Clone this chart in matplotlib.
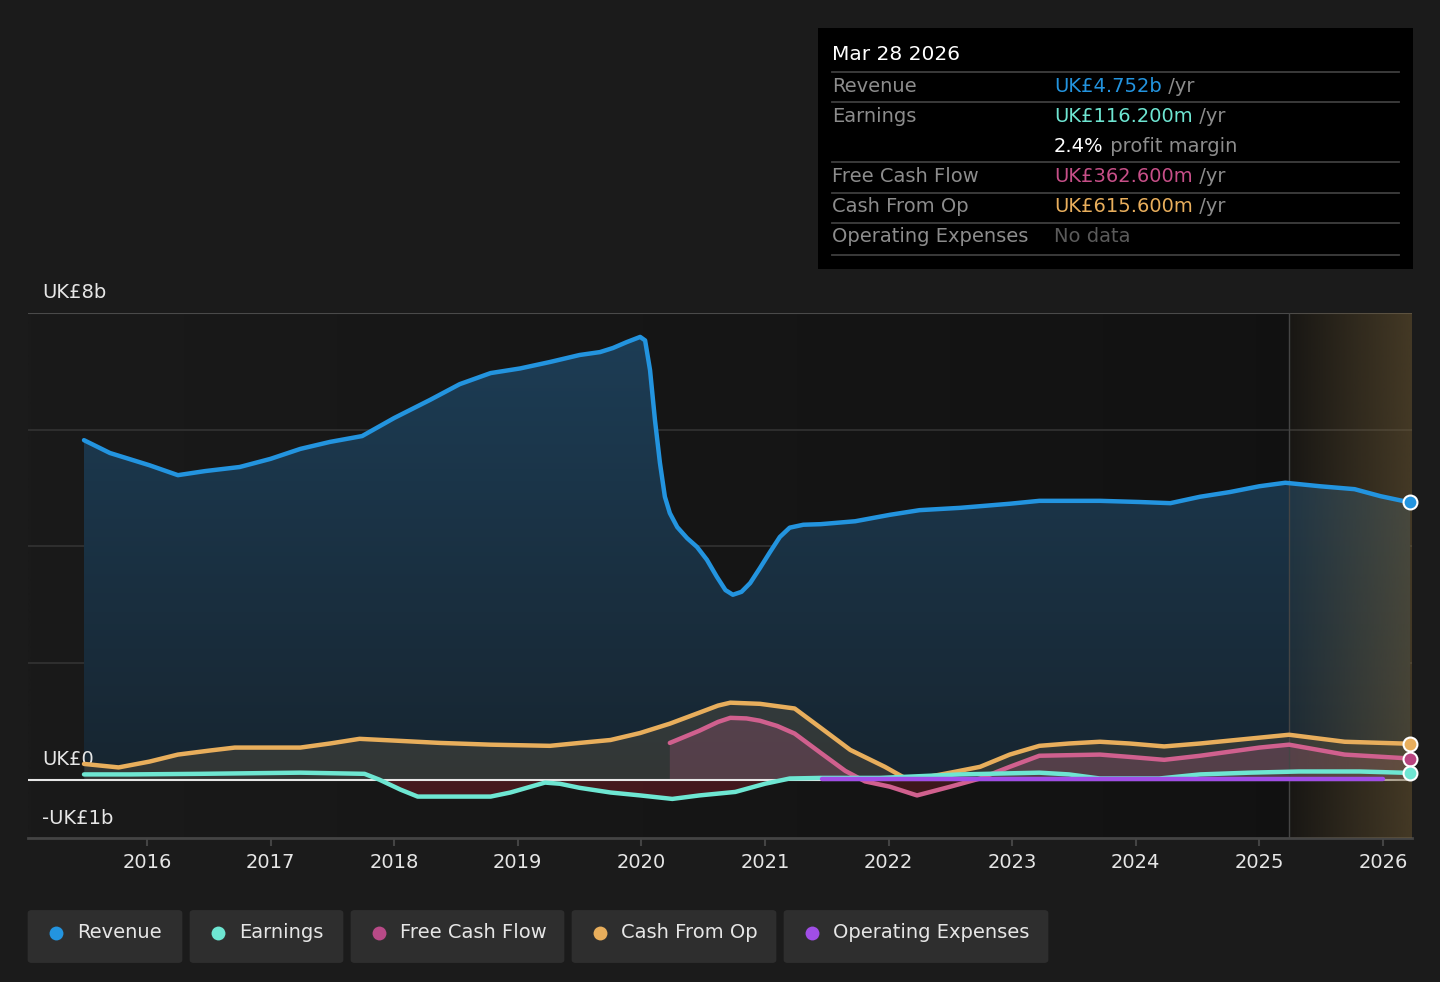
import numpy as np
import matplotlib
matplotlib.use('Agg')
from matplotlib import pyplot as plt
from matplotlib.patches import FancyBboxPatch
from matplotlib.colors import to_rgb

# Values in UK£ billions, x in decimal years
rev_x = [2015.49, 2015.70, 2016.02, 2016.25, 2016.47, 2016.75, 2017.0, 2017.24, 2017.48, 2017.74,
         2018.0, 2018.29, 2018.53, 2018.78, 2019.02, 2019.26, 2019.50, 2019.665, 2019.77, 2019.88,
         2019.99, 2020.03, 2020.07, 2020.11, 2020.15, 2020.19, 2020.23, 2020.29, 2020.37, 2020.45,
         2020.53, 2020.61, 2020.68, 2020.74, 2020.81, 2020.88, 2020.96, 2021.04, 2021.12, 2021.20,
         2021.31, 2021.45, 2021.73, 2022.01, 2022.25, 2022.58, 2022.98, 2023.22, 2023.71, 2024.03,
         2024.28, 2024.52, 2024.76, 2025.0, 2025.21, 2025.49, 2025.77, 2025.98, 2026.22]
rev_y = [5.82, 5.60, 5.39, 5.22, 5.29, 5.36, 5.50, 5.67, 5.79, 5.89,
         6.20, 6.51, 6.78, 6.97, 7.05, 7.16, 7.28, 7.33, 7.40, 7.50,
         7.59, 7.53, 7.02, 6.16, 5.43, 4.85, 4.57, 4.33, 4.14, 3.99,
         3.77, 3.48, 3.25, 3.17, 3.22, 3.37, 3.63, 3.90, 4.16, 4.32,
         4.37, 4.38, 4.43, 4.54, 4.62, 4.66, 4.73, 4.78, 4.78, 4.76,
         4.74, 4.85, 4.93, 5.03, 5.09, 5.03, 4.98, 4.86, 4.752]

earn_x = [2015.49, 2015.86, 2016.43, 2017.24, 2017.76, 2017.88, 2018.05, 2018.19, 2018.45, 2018.78,
          2018.94, 2019.22, 2019.34, 2019.50, 2019.75, 2019.99, 2020.25, 2020.47, 2020.76, 2021.0,
          2021.20, 2021.45, 2021.93, 2022.58, 2023.22, 2023.46, 2023.71, 2024.19, 2024.52, 2024.92,
          2025.32, 2025.81, 2026.22]
earn_y = [0.09, 0.09, 0.10, 0.12, 0.10, 0.0, -0.17, -0.29, -0.29, -0.29,
          -0.22, -0.05, -0.07, -0.14, -0.22, -0.27, -0.33, -0.27, -0.21, -0.07,
          0.02, 0.03, 0.03, 0.09, 0.12, 0.09, 0.02, 0.02, 0.09, 0.12,
          0.14, 0.14, 0.1162]

fcf_x = [2020.23, 2020.47, 2020.62, 2020.72, 2020.85, 2020.96, 2021.10, 2021.24, 2021.45, 2021.65,
         2021.81, 2022.01, 2022.23, 2022.50, 2022.74, 2022.98, 2023.22, 2023.71, 2023.95, 2024.23,
         2024.52, 2025.0, 2025.24, 2025.69, 2026.22]
fcf_y = [0.63, 0.84, 0.99, 1.06, 1.05, 1.01, 0.92, 0.79, 0.46, 0.15,
         -0.03, -0.12, -0.27, -0.12, 0.02, 0.22, 0.41, 0.43, 0.39, 0.34,
         0.41, 0.55, 0.60, 0.43, 0.3626]

cfo_x = [2015.49, 2015.77, 2016.02, 2016.25, 2016.51, 2016.71, 2017.24, 2017.48, 2017.72, 2018.0,
         2018.37, 2018.78, 2019.26, 2019.50, 2019.75, 2019.99, 2020.23, 2020.47, 2020.62, 2020.72,
         2020.96, 2021.24, 2021.45, 2021.69, 2021.97, 2022.13, 2022.25, 2022.50, 2022.74, 2022.98,
         2023.22, 2023.46, 2023.71, 2023.95, 2024.23, 2024.52, 2025.0, 2025.24, 2025.69, 2026.22]
cfo_y = [0.27, 0.21, 0.31, 0.43, 0.50, 0.55, 0.55, 0.62, 0.70, 0.67,
         0.63, 0.60, 0.58, 0.63, 0.68, 0.80, 0.96, 1.15, 1.27, 1.32,
         1.30, 1.22, 0.89, 0.51, 0.22, 0.03, 0.02, 0.12, 0.22, 0.43,
         0.58, 0.62, 0.65, 0.62, 0.57, 0.62, 0.72, 0.77, 0.65, 0.6156]

opex_x = [2021.46, 2022.0, 2023.0, 2024.0, 2025.0, 2026.0]
opex_y = [0.02, 0.02, 0.02, 0.02, 0.02, 0.02]

years = [2016, 2017, 2018, 2019, 2020, 2021, 2022, 2023, 2024, 2025, 2026]
forecast_start = 2025.24

series_names = ['Revenue', 'Earnings', 'Free Cash Flow', 'Cash From Op', 'Operating Expenses']
colors = {'Revenue': '#2394df', 'Earnings': '#6ee6d2', 'Free Cash Flow': '#d0608e',
          'Cash From Op': '#e8ae5c', 'Operating Expenses': '#a04ee6'}
legend_dots = {'Revenue': '#2394df', 'Earnings': '#6ee6d2', 'Free Cash Flow': '#b84a87',
               'Cash From Op': '#e8ae5c', 'Operating Expenses': '#a04ee6'}
marker_fill = {'Revenue': '#2394df', 'Earnings': '#6ee6d2', 'Free Cash Flow': '#b8437f',
               'Cash From Op': '#e8ae5c'}

BG = '#1b1b1b'
XMIN, XMAX = 2015.037, 2026.235
YMIN, YMAX = -1.0, 8.0

fig = plt.figure(figsize=(14.4, 9.82), dpi=100, facecolor=BG)
ax = fig.add_axes([28 / 1440, 1 - 838 / 982, (1412 - 28) / 1440, (838 - 313) / 982])
ax.set_facecolor('#151515')
ax.set_xlim(XMIN, XMAX)
ax.set_ylim(YMIN, YMAX)
for s in ax.spines.values():
    s.set_visible(False)

# plot background, slightly lighter on the left
l_c = np.array(to_rgb('#1a1a1a'))
r_c = np.array(to_rgb('#111111'))
t = np.linspace(0, 1, 256)[None, :, None]
bg_img = l_c[None, None, :] * (1 - t) + r_c[None, None, :] * t
ax.imshow(bg_img, extent=[XMIN, XMAX, YMIN, YMAX], aspect='auto', zorder=0, interpolation='bilinear')

# grid lines
for gy in [2, 4, 6]:
    ax.axhline(gy, color='#333333', lw=1.2, zorder=1)
ax.axhline(8, color='#4a4a4a', lw=1.5, zorder=1)
ax.axhline(-1, color='#444444', lw=2, zorder=1, clip_on=False)

# revenue area with vertical gradient
poly = ax.fill_between(rev_x, rev_y, 0, facecolor='none', edgecolor='none')
top_c = np.array(to_rgb('#1d3e57'))
bot_c = np.array(to_rgb('#172530'))
grad = np.linspace(1, 0, 256)[:, None]
img = top_c[None, None, :] * grad[:, :, None] + bot_c[None, None, :] * (1 - grad[:, :, None])
im = ax.imshow(img, extent=[rev_x[0], rev_x[-1], 0, 8], aspect='auto', zorder=2, interpolation='bilinear')
im.set_clip_path(poly.get_paths()[0], transform=ax.transData)

# other areas
ax.fill_between(cfo_x, cfo_y, 0, color='#e8ae5c', alpha=0.13, lw=0, zorder=3)
fcf_arr = np.array(fcf_y)
ax.fill_between(fcf_x, fcf_y, 0, where=fcf_arr >= 0, interpolate=True, color='#d0608e', alpha=0.22, lw=0, zorder=3)
ax.fill_between(fcf_x, fcf_y, 0, where=fcf_arr <= 0, interpolate=True, color='#8a1e2a', alpha=0.35, lw=0, zorder=3)
earn_arr = np.array(earn_y)
ax.fill_between(earn_x, earn_y, 0, where=earn_arr <= 0, interpolate=True, color='#8a1e2a', alpha=0.4, lw=0, zorder=3)

ax.axhline(0, color='#e6e6e6', lw=1.5, zorder=4)

# forecast shading (horizontal gradient), under the lines
fc = np.array(to_rgb('#6e5a36'))
shade = np.zeros((1, 256, 4))
shade[0, :, :3] = fc
shade[0, :, 3] = np.linspace(0.08, 0.55, 256)
ax.imshow(shade, extent=[forecast_start, XMAX, YMIN, YMAX], aspect='auto', zorder=5, interpolation='bilinear')
ax.axvline(forecast_start, color='#454545', lw=1.0, zorder=5)

# lines
lw = 3.2
line_kw = dict(lw=lw, solid_capstyle='round', solid_joinstyle='round')
ax.plot(rev_x, rev_y, color=colors['Revenue'], zorder=6, **line_kw)
ax.plot(cfo_x, cfo_y, color=colors['Cash From Op'], zorder=6, **line_kw)
ax.plot(fcf_x, fcf_y, color=colors['Free Cash Flow'], zorder=6, **line_kw)
ax.plot(earn_x, earn_y, color=colors['Earnings'], zorder=6, **line_kw)
ax.plot(opex_x, opex_y, color=colors['Operating Expenses'], zorder=7, **line_kw)

# end markers
for xs, ys, name in [(rev_x, rev_y, 'Revenue'), (cfo_x, cfo_y, 'Cash From Op'),
                     (fcf_x, fcf_y, 'Free Cash Flow'), (earn_x, earn_y, 'Earnings')]:
    ax.plot(xs[-1], ys[-1], 'o', ms=10, mfc=marker_fill[name], mec='white', mew=1.5, zorder=10, clip_on=False)

# x ticks
ax.set_xticks(years)
ax.set_xticklabels([str(y) for y in years])
ax.tick_params(axis='x', colors='#444444', length=6, width=1.5, pad=5, labelsize=14, labelcolor='#e6e6e6')
ax.set_yticks([])

# y labels
ax.text(2015.15, 8.18, 'UK£8b', color='#e6e6e6', fontsize=14, va='bottom', ha='left')
ax.text(2015.15, 0.18, 'UK£0', color='#e6e6e6', fontsize=14, va='bottom', ha='left')
ax.text(2015.15, -0.82, '-UK£1b', color='#e6e6e6', fontsize=14, va='bottom', ha='left')


def px(x, y):
    return x / 1440, 1 - y / 982


# tooltip box
bx0, by0 = px(818, 269)
fig.patches.append(plt.Rectangle((bx0, by0), (1413 - 818) / 1440, (269 - 28) / 982,
                                 transform=fig.transFigure, facecolor='#000000', edgecolor='none'))
fig.text(*px(832, 55), 'Mar 28 2026', color='#ffffff', fontsize=14.5, va='center', ha='left')
for ly in [72, 102, 162, 193, 223, 255]:
    fig.lines.append(plt.Line2D([832 / 1440, 1399 / 1440], [1 - ly / 982] * 2, transform=fig.transFigure,
                                color='#3f3f3f', lw=1.3))

rows = [(87, 'Revenue', 'UK£4.752b', colors['Revenue'], ' /yr'),
        (116, 'Earnings', 'UK£116.200m', colors['Earnings'], ' /yr'),
        (146, '', '2.4%', '#ffffff', ' profit margin'),
        (176, 'Free Cash Flow', 'UK£362.600m', '#c74f88', ' /yr'),
        (207, 'Cash From Op', 'UK£615.600m', colors['Cash From Op'], ' /yr'),
        (237, 'Operating Expenses', 'No data', '#5a5a5a', '')]
renderer = fig.canvas.get_renderer()
for ry, label, val, vc, suffix in rows:
    fig.text(*px(832, ry), label, color='#8c8c8c', fontsize=14, va='center', ha='left')
    tx = fig.text(*px(1054, ry), val, color=vc, fontsize=14, va='center', ha='left')
    if suffix:
        bb = tx.get_window_extent(renderer=renderer)
        fig.text(bb.x1 / 1440, 1 - ry / 982, suffix, color='#8c8c8c', fontsize=14, va='center', ha='left')

# legend buttons
buttons = [(28, 182), (190, 343), (351, 564), (572, 776), (784, 1048)]
for (x0, x1), name in zip(buttons, series_names):
    fig.patches.append(FancyBboxPatch(((x0 + 4) / 1440, 1 - (964 - 4) / 982), (x1 - x0 - 8) / 1440, (55 - 8) / 982,
                                      boxstyle='round,pad=0.003', transform=fig.transFigure,
                                      facecolor='#2e2e2e', edgecolor='none'))
    fig.lines.append(plt.Line2D([(x0 + 28) / 1440], [1 - 933 / 982], transform=fig.transFigure,
                                marker='o', ms=10, mfc=legend_dots[name], mec='none', ls='none'))
    fig.text((x0 + 49) / 1440, 1 - 933 / 982, name, color='#e6e6e6', fontsize=14, va='center', ha='left')

fig.savefig('out.png', dpi=100, facecolor=BG)
